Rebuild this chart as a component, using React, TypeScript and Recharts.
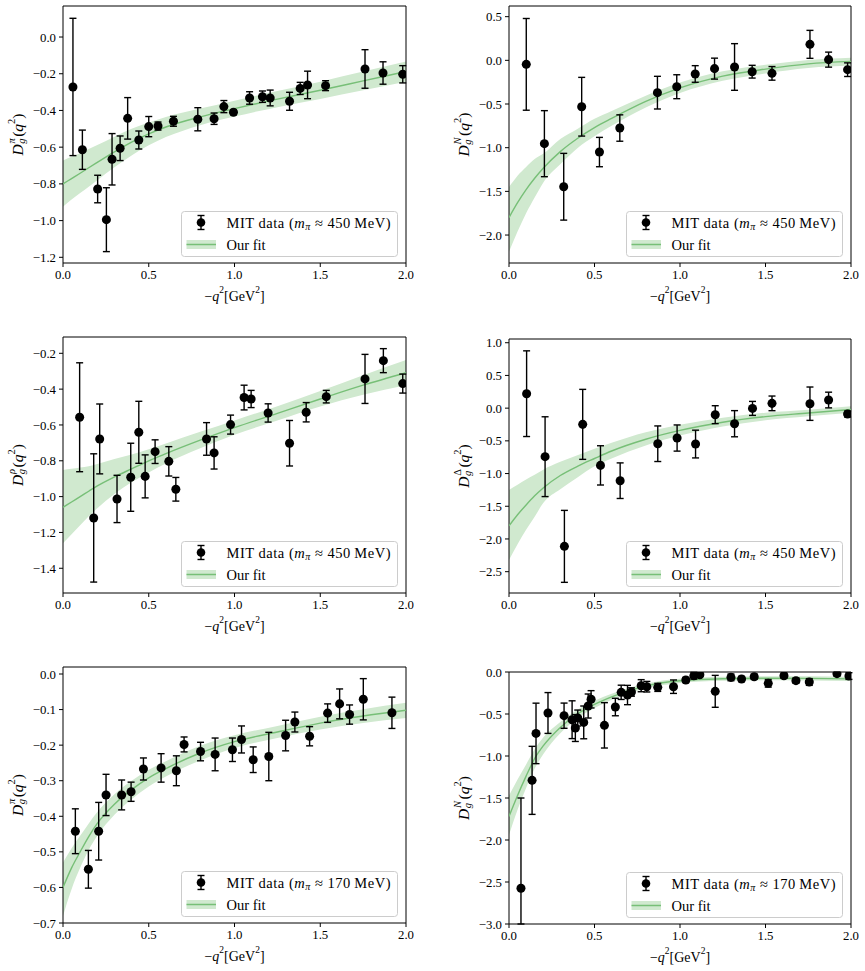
import React from 'react';
import { ComposedChart, Area, Line, Scatter, ErrorBar, XAxis, YAxis, ReferenceArea, Legend } from 'recharts';

const SERIF = 'Liberation Serif, DejaVu Serif, serif';
const BAND = '#d0e9cf';
const FIT_LINE = '#77bf77';

const X_TICKS = [0, 0.5, 1.0, 1.5, 2.0];

// -q^2 grid on which the fitted curves and their bands are tabulated
const FIT_Q = [0, 0.05, 0.1, 0.15, 0.2, 0.3, 0.4, 0.5, 0.6, 0.8, 1.0, 1.25, 1.5, 1.75, 2.0];

// pion, m_pi ~ 450 MeV
const PI450_Q = [0.058, 0.113, 0.202, 0.253, 0.286, 0.333, 0.377, 0.442, 0.5, 0.554, 0.644, 0.786, 0.881, 0.938, 0.994, 1.088, 1.163, 1.208, 1.321, 1.383, 1.426, 1.531, 1.761, 1.866, 1.981];
const PI450_D = [-0.272, -0.614, -0.828, -0.995, -0.666, -0.606, -0.443, -0.561, -0.488, -0.485, -0.459, -0.448, -0.445, -0.379, -0.41, -0.332, -0.325, -0.332, -0.35, -0.28, -0.261, -0.265, -0.174, -0.196, -0.203];
const PI450_ERR = [0.374, 0.107, 0.075, 0.174, 0.14, 0.067, 0.113, 0.049, 0.055, 0.022, 0.027, 0.063, 0.031, 0.033, 0.013, 0.034, 0.031, 0.043, 0.049, 0.033, 0.075, 0.027, 0.105, 0.061, 0.047];
const PI450_FIT = [-0.8, -0.771, -0.742, -0.712, -0.683, -0.626, -0.573, -0.528, -0.49, -0.435, -0.39, -0.338, -0.29, -0.239, -0.188];
const PI450_LO = [-0.924, -0.885, -0.85, -0.815, -0.78, -0.71, -0.645, -0.59, -0.545, -0.48, -0.433, -0.382, -0.337, -0.29, -0.243];
const PI450_HI = [-0.672, -0.652, -0.633, -0.61, -0.588, -0.543, -0.5, -0.465, -0.435, -0.39, -0.347, -0.294, -0.243, -0.188, -0.133];

// nucleon, m_pi ~ 450 MeV
const N450_Q = [0.101, 0.207, 0.32, 0.425, 0.529, 0.648, 0.868, 0.981, 1.089, 1.202, 1.319, 1.422, 1.538, 1.76, 1.869, 1.98];
const N450_D = [-0.046, -0.954, -1.447, -0.531, -1.05, -0.775, -0.37, -0.302, -0.156, -0.095, -0.076, -0.13, -0.149, 0.183, 0.008, -0.107];
const N450_ERR = [0.525, 0.378, 0.382, 0.336, 0.168, 0.151, 0.187, 0.137, 0.095, 0.12, 0.267, 0.073, 0.078, 0.16, 0.086, 0.078];
const N450_FIT = [-1.8, -1.63, -1.48, -1.35, -1.235, -1.045, -0.895, -0.77, -0.665, -0.47, -0.315, -0.18, -0.1, -0.04, -0.012];
const N450_LO = [-2.19, -1.96, -1.75, -1.57, -1.4, -1.19, -1.005, -0.87, -0.75, -0.54, -0.375, -0.235, -0.15, -0.088, -0.06];
const N450_HI = [-1.45, -1.32, -1.22, -1.13, -1.07, -0.9, -0.785, -0.67, -0.58, -0.405, -0.255, -0.125, -0.05, 0.005, 0.03];

// rho, m_pi ~ 450 MeV
const RHO450_Q = [0.097, 0.179, 0.214, 0.315, 0.395, 0.442, 0.479, 0.537, 0.617, 0.658, 0.837, 0.881, 0.977, 1.056, 1.097, 1.196, 1.321, 1.418, 1.535, 1.761, 1.868, 1.981];
const RHO450_D = [-0.557, -1.119, -0.678, -1.013, -0.892, -0.641, -0.887, -0.749, -0.803, -0.959, -0.678, -0.756, -0.598, -0.447, -0.455, -0.533, -0.702, -0.529, -0.442, -0.343, -0.241, -0.369];
const RHO450_ERR = [0.304, 0.358, 0.195, 0.132, 0.19, 0.173, 0.12, 0.066, 0.082, 0.066, 0.091, 0.09, 0.053, 0.069, 0.048, 0.051, 0.127, 0.054, 0.035, 0.137, 0.067, 0.053];
const RHO450_FIT = [-1.06, -1.03, -1.0, -0.97, -0.94, -0.89, -0.845, -0.8, -0.76, -0.685, -0.615, -0.535, -0.455, -0.378, -0.308];
const RHO450_LO = [-1.26, -1.21, -1.16, -1.11, -1.065, -0.985, -0.92, -0.865, -0.815, -0.73, -0.655, -0.575, -0.497, -0.432, -0.379];
const RHO450_HI = [-0.851, -0.845, -0.838, -0.83, -0.818, -0.79, -0.765, -0.735, -0.703, -0.638, -0.575, -0.495, -0.41, -0.322, -0.237];

// Delta, m_pi ~ 450 MeV
const DEL450_Q = [0.103, 0.211, 0.324, 0.431, 0.535, 0.65, 0.87, 0.983, 1.091, 1.206, 1.319, 1.424, 1.538, 1.76, 1.869, 1.98];
const DEL450_D = [0.221, -0.742, -2.113, -0.248, -0.875, -1.109, -0.544, -0.457, -0.549, -0.1, -0.238, -0.004, 0.073, 0.068, 0.124, -0.09];
const DEL450_ERR = [0.655, 0.61, 0.55, 0.535, 0.3, 0.272, 0.272, 0.2, 0.212, 0.137, 0.2, 0.107, 0.112, 0.255, 0.12, 0.045];
const DEL450_FIT = [-1.8, -1.63, -1.48, -1.34, -1.22, -1.03, -0.89, -0.77, -0.655, -0.475, -0.34, -0.215, -0.13, -0.075, -0.02];
const DEL450_LO = [-2.32, -2.08, -1.86, -1.66, -1.45, -1.24, -1.06, -0.89, -0.77, -0.57, -0.42, -0.28, -0.185, -0.125, -0.07];
const DEL450_HI = [-1.25, -1.17, -1.09, -1.02, -0.94, -0.82, -0.72, -0.62, -0.53, -0.37, -0.255, -0.145, -0.07, -0.025, 0.03];

// pion, m_pi ~ 170 MeV
const PI170_Q = [0.072, 0.148, 0.208, 0.251, 0.342, 0.397, 0.469, 0.572, 0.661, 0.706, 0.802, 0.887, 0.988, 1.041, 1.109, 1.2, 1.298, 1.352, 1.438, 1.543, 1.613, 1.671, 1.751, 1.918];
const PI170_D = [-0.442, -0.549, -0.442, -0.34, -0.34, -0.331, -0.267, -0.264, -0.272, -0.198, -0.218, -0.226, -0.213, -0.184, -0.241, -0.232, -0.173, -0.135, -0.175, -0.11, -0.084, -0.114, -0.071, -0.109];
const PI170_ERR = [0.063, 0.053, 0.081, 0.058, 0.042, 0.027, 0.031, 0.04, 0.042, 0.021, 0.026, 0.046, 0.033, 0.038, 0.036, 0.068, 0.043, 0.028, 0.027, 0.026, 0.042, 0.027, 0.058, 0.044];
const PI170_FIT = [-0.6, -0.545, -0.5, -0.457, -0.42, -0.366, -0.325, -0.292, -0.266, -0.222, -0.19, -0.163, -0.138, -0.118, -0.102];
const PI170_LO = [-0.68, -0.605, -0.545, -0.495, -0.455, -0.396, -0.352, -0.316, -0.288, -0.243, -0.208, -0.18, -0.156, -0.138, -0.124];
const PI170_HI = [-0.53, -0.49, -0.455, -0.42, -0.388, -0.338, -0.3, -0.269, -0.245, -0.202, -0.172, -0.146, -0.12, -0.099, -0.081];

// nucleon, m_pi ~ 170 MeV
const N170_Q = [0.07, 0.135, 0.158, 0.228, 0.322, 0.369, 0.388, 0.402, 0.437, 0.463, 0.48, 0.558, 0.622, 0.656, 0.693, 0.716, 0.773, 0.806, 0.87, 0.962, 1.034, 1.081, 1.116, 1.206, 1.298, 1.36, 1.434, 1.516, 1.608, 1.678, 1.756, 1.918, 1.988];
const N170_D = [-2.575, -1.29, -0.731, -0.488, -0.52, -0.568, -0.667, -0.548, -0.6, -0.405, -0.325, -0.635, -0.417, -0.242, -0.274, -0.238, -0.163, -0.175, -0.183, -0.175, -0.095, -0.044, -0.032, -0.23, -0.064, -0.083, -0.056, -0.135, -0.044, -0.103, -0.119, -0.02, -0.048];
const N170_ERR = [1.075, 0.405, 0.36, 0.243, 0.15, 0.225, 0.16, 0.095, 0.195, 0.143, 0.103, 0.27, 0.104, 0.085, 0.115, 0.05, 0.072, 0.063, 0.048, 0.08, 0.03, 0.04, 0.02, 0.19, 0.04, 0.03, 0.03, 0.045, 0.03, 0.03, 0.04, 0.03, 0.04];
const N170_FIT = [-1.72, -1.47, -1.24, -1.03, -0.88, -0.66, -0.5, -0.385, -0.295, -0.165, -0.105, -0.08, -0.074, -0.076, -0.082];
const N170_LO = [-1.94, -1.64, -1.38, -1.15, -0.98, -0.73, -0.555, -0.43, -0.33, -0.195, -0.132, -0.105, -0.099, -0.1, -0.107];
const N170_HI = [-1.47, -1.28, -1.1, -0.92, -0.78, -0.595, -0.448, -0.342, -0.26, -0.137, -0.08, -0.056, -0.05, -0.052, -0.057];

const fmtTick = (v: number) => {
  if (Math.abs(v) < 1e-9) return '0.0';
  return v < 0 ? '\u2212' + Math.abs(v).toFixed(1) : v.toFixed(1);
};

const PANELS = [
  {
    box: { left: 0, top: 0, width: 420, height: 310 }, plot: { x0: 63, y0: 6, x1: 406, y1: 263 },
    domain: [-1.231, 0.169], ticks: [-1.2, -1.0, -0.8, -0.6, -0.4, -0.2, 0.0],
    sup: '\u03c0', supItalic: true, mass: '450',
    q: PI450_Q, d: PI450_D, err: PI450_ERR, fit: PI450_FIT, lo: PI450_LO, hi: PI450_HI,
  },
  {
    box: { left: 435, top: 0, width: 430, height: 310 }, plot: { x0: 509, y0: 6, x1: 851, y1: 263 },
    domain: [-2.32, 0.622], ticks: [-2.0, -1.5, -1.0, -0.5, 0.0, 0.5],
    sup: 'N', supItalic: true, mass: '450',
    q: N450_Q, d: N450_D, err: N450_ERR, fit: N450_FIT, lo: N450_LO, hi: N450_HI,
  },
  {
    box: { left: 0, top: 315, width: 420, height: 325 }, plot: { x0: 63, y0: 337, x1: 406, y1: 593 },
    domain: [-1.538, -0.109], ticks: [-1.4, -1.2, -1.0, -0.8, -0.6, -0.4, -0.2],
    sup: '\u03c1', supItalic: true, mass: '450',
    q: RHO450_Q, d: RHO450_D, err: RHO450_ERR, fit: RHO450_FIT, lo: RHO450_LO, hi: RHO450_HI,
  },
  {
    box: { left: 435, top: 315, width: 430, height: 325 }, plot: { x0: 509, y0: 339, x1: 851, y1: 593 },
    domain: [-2.826, 1.057], ticks: [-2.5, -2.0, -1.5, -1.0, -0.5, 0.0, 0.5, 1.0],
    sup: '\u0394', supItalic: false, mass: '450',
    q: DEL450_Q, d: DEL450_D, err: DEL450_ERR, fit: DEL450_FIT, lo: DEL450_LO, hi: DEL450_HI,
  },
  {
    box: { left: 0, top: 645, width: 420, height: 326 }, plot: { x0: 63, y0: 667, x1: 406, y1: 923 },
    domain: [-0.7, 0.0197], ticks: [-0.7, -0.6, -0.5, -0.4, -0.3, -0.2, -0.1, 0.0],
    sup: '\u03c0', supItalic: true, mass: '170',
    q: PI170_Q, d: PI170_D, err: PI170_ERR, fit: PI170_FIT, lo: PI170_LO, hi: PI170_HI,
  },
  {
    box: { left: 435, top: 645, width: 430, height: 326 }, plot: { x0: 509, y0: 672, x1: 851, y1: 924 },
    domain: [-3.0, 0.0], ticks: [-3.0, -2.5, -2.0, -1.5, -1.0, -0.5, 0.0],
    sup: 'N', supItalic: true, mass: '170',
    q: N170_Q, d: N170_D, err: N170_ERR, fit: N170_FIT, lo: N170_LO, hi: N170_HI,
  },
];

const LEG_W = 217;
const LEG_H = 46;

function FitKey({ mass }: { mass: string }) {
  return (
    <svg width={LEG_W} height={LEG_H} style={{ display: 'block' }}>
      <rect x={0.5} y={0.5} width={LEG_W - 1} height={LEG_H - 1} rx={3} fill="#fff" fillOpacity={0.8} stroke="#cccccc" />
      <line x1={20} y1={4.5} x2={20} y2={18.5} stroke="#000" strokeWidth={1.4} />
      <line x1={16.5} y1={4.5} x2={23.5} y2={4.5} stroke="#000" strokeWidth={1.4} />
      <line x1={16.5} y1={18.5} x2={23.5} y2={18.5} stroke="#000" strokeWidth={1.4} />
      <circle cx={20} cy={11.5} r={4.3} fill="#000" />
      <text x={45.5} y={12} dominantBaseline="central" fontFamily={SERIF} fontSize={14.5} fill="#000"
        textLength={164} lengthAdjust="spacing">
        <tspan>MIT data (</tspan>
        <tspan fontStyle="italic">m</tspan>
        <tspan fontStyle="italic" fontSize={10} dy={3}>{'\u03c0'}</tspan>
        <tspan dy={-3}>{' \u2248 '}{mass}{'\u2009'}MeV)</tspan>
      </text>
      <rect x={5.5} y={29} width={29.5} height={9} fill={BAND} />
      <line x1={5.5} y1={33.5} x2={35} y2={33.5} stroke={FIT_LINE} strokeWidth={1.5} />
      <text x={45.5} y={34} dominantBaseline="central" fontFamily={SERIF} fontSize={14.5} fill="#000">Our fit</text>
    </svg>
  );
}

function Panel({ cfg }: { cfg: any }) {
  const { box, plot, domain, ticks, sup, supItalic, mass } = cfg;
  const rows = FIT_Q.map((q, i) => ({ q, fit: cfg.fit[i], band: [cfg.lo[i], cfg.hi[i]] }));
  const pts = cfg.q.map((q: number, i: number) => ({ q, d: cfg.d[i], err: cfg.err[i] }));

  // bars are cut at the frame, like the axes clip in the data plot
  const barExtent = (p: any) => [Math.min(p.err, p.d - domain[0]), Math.min(p.err, domain[1] - p.d)];

  const yAxisW = plot.x0 - box.left;
  const xAxisH = box.top + box.height - plot.y1;
  const margin = { top: plot.y0 - box.top, right: box.left + box.width - plot.x1, bottom: 0, left: 0 };

  const midX = (plot.x0 + plot.x1) / 2 - box.left;
  const midY = (plot.y0 + plot.y1) / 2 - box.top;
  const xTitleY = plot.y1 - box.top + 33;
  const yTitleX = plot.x0 - box.left - 46;

  const tick = { fill: '#000', fontSize: 12.8, fontFamily: SERIF };

  const xTitle = () => (
    <text x={midX} y={xTitleY} textAnchor="middle" dominantBaseline="central" fontFamily={SERIF} fontSize={14} fill="#000">
      <tspan>{'\u2212'}</tspan>
      <tspan fontStyle="italic">q</tspan>
      <tspan fontSize={9.5} dy={-6}>2</tspan>
      <tspan dy={6}>[GeV</tspan>
      <tspan fontSize={9.5} dy={-6}>2</tspan>
      <tspan dy={6}>]</tspan>
    </text>
  );

  const yTitle = () => (
    <text x={yTitleX} y={midY} transform={`rotate(-90 ${yTitleX} ${midY})`} textAnchor="middle"
      dominantBaseline="central" fontFamily={SERIF} fontSize={15.5} fill="#000">
      <tspan fontStyle="italic">D</tspan>
      <tspan fontStyle="italic" fontSize={10.5} dx={0.5} dy={4}>g</tspan>
      <tspan fontStyle={supItalic ? 'italic' : 'normal'} fontSize={10.5} dx={-5} dy={-10.5}>{sup}</tspan>
      <tspan dx={1.5} dy={6.5}>(</tspan>
      <tspan fontStyle="italic">q</tspan>
      <tspan fontSize={10.5} dy={-6.5}>2</tspan>
      <tspan dy={6.5}>)</tspan>
    </text>
  );

  return (
    <div style={{ position: 'absolute', left: box.left, top: box.top }}>
      <ComposedChart width={box.width} height={box.height} data={rows} margin={margin}>
        <XAxis dataKey="q" type="number" domain={[0, 2]} ticks={X_TICKS} interval={0} allowDataOverflow
          height={xAxisH} tickSize={4} tickMargin={3} tick={tick} tickFormatter={fmtTick}
          axisLine={false} tickLine={{ stroke: '#000' }} label={xTitle} />
        <YAxis type="number" domain={domain} ticks={ticks} interval={0} allowDataOverflow
          width={yAxisW} tickSize={4} tickMargin={3} tick={tick} tickFormatter={fmtTick}
          axisLine={false} tickLine={{ stroke: '#000' }} label={yTitle} />
        <Area dataKey="band" type="monotone" fill={BAND} fillOpacity={1} stroke="none"
          dot={false} activeDot={false} isAnimationActive={false} />
        <Line dataKey="fit" type="monotone" stroke={FIT_LINE} strokeWidth={1.4}
          dot={false} activeDot={false} isAnimationActive={false} />
        <Scatter data={pts} dataKey="d" fill="#000" isAnimationActive={false}>
          <ErrorBar dataKey={barExtent} direction="y" width={3.5} stroke="#000" strokeWidth={1.4} />
        </Scatter>
        <ReferenceArea x1={0} x2={2} y1={domain[0]} y2={domain[1]} fill="none" stroke="#000" strokeWidth={1} />
        <Legend layout="vertical" align="center" verticalAlign="middle"
          wrapperStyle={{
            left: plot.x1 - 8 - LEG_W - box.left,
            top: plot.y1 - 6 - LEG_H - box.top,
            width: LEG_W,
            height: LEG_H,
          }}
          content={() => <FitKey mass={mass} />} />
      </ComposedChart>
    </div>
  );
}

export default function App() {
  return (
    <div style={{ position: 'absolute', left: 0, top: 0, width: 865, height: 971, background: '#fff' }}>
      {PANELS.map((p, i) => <Panel key={i} cfg={p} />)}
    </div>
  );
}
